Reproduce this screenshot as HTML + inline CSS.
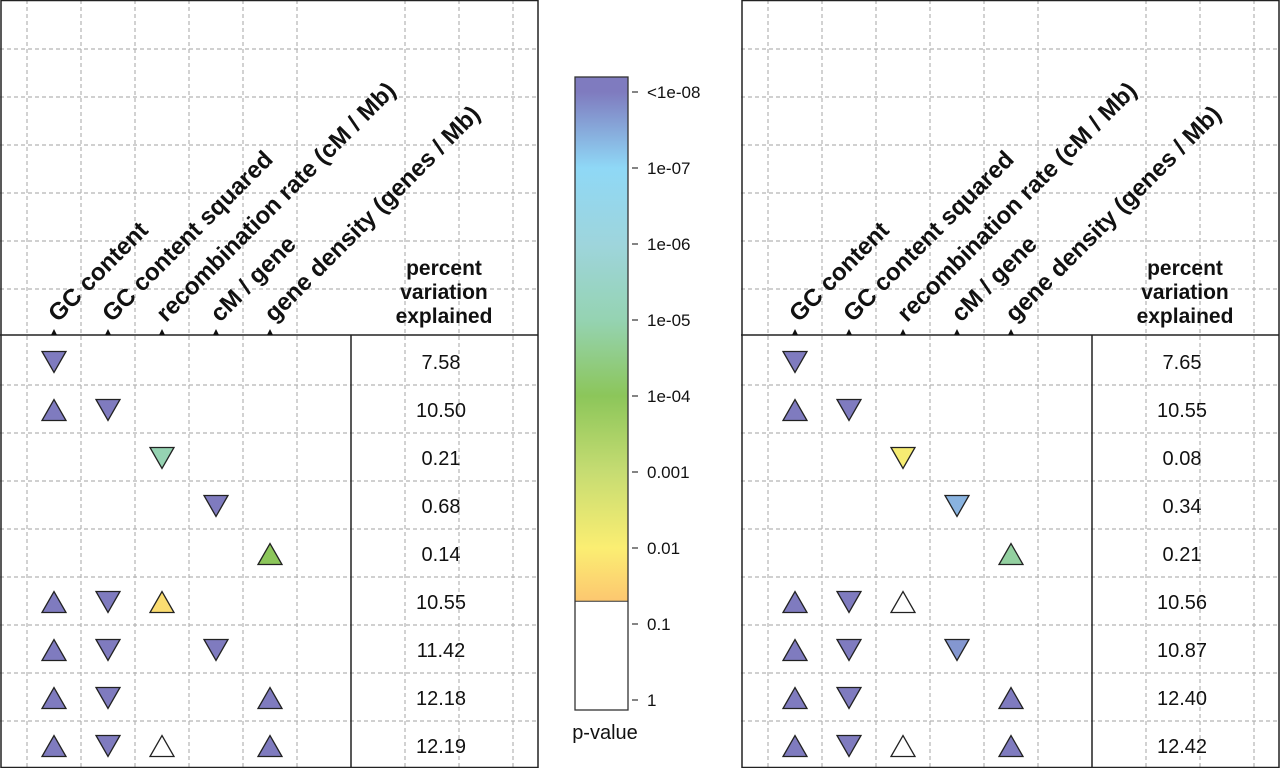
<!DOCTYPE html>
<html><head><meta charset="utf-8"><style>
html,body{margin:0;padding:0;background:#fff;}
svg{display:block;font-family:"Liberation Sans",Arial,sans-serif;}
</style></head><body>
<svg id="chart" width="1280" height="768" viewBox="0 0 1280 768">
<defs>
<linearGradient id="cbGrad" x1="0" y1="1" x2="0" y2="0"></linearGradient>
</defs>
</svg>
<script>
// ---- data ----
const predictors = ["GC content","GC content squared","recombination rate (cM / Mb)","cM / gene","gene density (genes / Mb)"];
// each row: per predictor direction (1 up, -1 down, 0 none)
const leftDirs = [
 [-1,0,0,0,0],[1,-1,0,0,0],[0,0,-1,0,0],[0,0,0,-1,0],[0,0,0,0,1],
 [1,-1,1,0,0],[1,-1,0,-1,0],[1,-1,0,0,1],[1,-1,1,0,1]];
// per predictor log10 p-value (null where absent)
const leftLogP = [
 [-9,null,null,null,null],[-9,-9,null,null,null],[null,null,-5,null,null],[null,null,null,-8,null],[null,null,null,null,-4],
 [-9,-9,-1.7,null,null],[-9,-9,null,-9,null],[-9,-9,null,null,-9],[-9,-9,-0.5,null,-9]];
const leftPct = ["7.58","10.50","0.21","0.68","0.14","10.55","11.42","12.18","12.19"];
const rightDirs = [
 [-1,0,0,0,0],[1,-1,0,0,0],[0,0,-1,0,0],[0,0,0,-1,0],[0,0,0,0,1],
 [1,-1,1,0,0],[1,-1,0,-1,0],[1,-1,0,0,1],[1,-1,1,0,1]];
const rightLogP = [
 [-9,null,null,null,null],[-9,-9,null,null,null],[null,null,-2.1,null,null],[null,null,null,-7.4,null],[null,null,null,null,-4.8],
 [-9,-9,-0.6,null,null],[-9,-9,null,-7.7,null],[-9,-9,null,null,-9],[-9,-9,-0.5,null,-9]];
const rightPct = ["7.65","10.55","0.08","0.34","0.21","10.56","10.87","12.40","12.42"];
const cbTicks = ["<1e-08","1e-07","1e-06","1e-05","1e-04","0.001","0.01","0.1","1"];
const cbTickLog = [-8,-7,-6,-5,-4,-3,-2,-1,0];
const colorStops = [[-8,"#7f7bbf"],[-7,"#8fd8f6"],[-6,"#9ed5dc"],[-5,"#95d3b2"],[-4,"#8cc65a"],[-3,"#c6dc72"],[-2,"#fbee72"],[-1.3,"#fcc770"]];

const NS="http://www.w3.org/2000/svg";
const svg=document.getElementById('chart');
function mk(tag,attrs,parent){const e=document.createElementNS(NS,tag);for(const k in attrs)e.setAttribute(k,attrs[k]);(parent||svg).appendChild(e);return e;}
function hex(h){return [1,3,5].map(i=>parseInt(h.substr(i,2),16));}
function colorFor(lp){
  if(lp>-1.3) return "#ffffff";
  if(lp<=-8) return colorStops[0][1];
  for(let i=0;i<colorStops.length-1;i++){
    const [a,ca]=colorStops[i],[b,cb]=colorStops[i+1];
    if(lp>=a&&lp<=b){const t=(lp-a)/(b-a);const A=hex(ca),B=hex(cb);
      return "rgb("+A.map((v,j)=>Math.round(v+(B[j]-v)*t)).join(",")+")";}
  }
  return "#ffffff";
}
const cbTop=77,cbBot=710;
const cbY=lp=>92+(lp+8)*76;
const grad=document.getElementById('cbGrad');
const gy0=cbY(-1.3), gy1=cbTop;
grad.setAttribute('gradientUnits','userSpaceOnUse');grad.setAttribute('x1',0);grad.setAttribute('x2',0);
grad.setAttribute('y1',gy0);grad.setAttribute('y2',gy1);
colorStops.slice().reverse().forEach(s=>{
  const off=Math.min(1,Math.max(0,(gy0-cbY(s[0]))/(gy0-gy1)));
  mk('stop',{offset:off.toFixed(4),'stop-color':s[1]},grad);
});
mk('stop',{offset:'1','stop-color':colorStops[0][1]},grad);

function panel(ox,dirs,logp,pct,name){
  const g=mk('g',{});
  
  
  const W=538, rowH=48, headY=335;
  const colX=i=>ox+54+54*i;
  const rowY=r=>headY+24+rowH*r;
  for(let k=0;k<10;k++){const x=ox+27+54*k; if(k===6)continue;
    mk('line',{x1:x,y1:0,x2:x,y2:768,stroke:'#b4b4b4','stroke-width':1.2,'stroke-dasharray':'4,3'},g);}
  for(let k=1;k<16;k++){const y=1+48*k; if(k===7)continue;
    mk('line',{x1:ox,y1:y,x2:ox+W,y2:y,stroke:'#b4b4b4','stroke-width':1.2,'stroke-dasharray':'4,3'},g);}
  const bx=mk('rect',{x:ox+1,y:0.5,width:W-1,height:767,fill:'none',stroke:'#222','stroke-width':1.5},g);
  
  mk('line',{x1:ox,y1:headY,x2:ox+W,y2:headY,stroke:'#222','stroke-width':1.5},g);
  mk('line',{x1:ox+351,y1:headY,x2:ox+351,y2:768,stroke:'#222','stroke-width':1.5},g);
  predictors.forEach((p,i)=>{
    const x=colX(i);
    const tk=mk('path',{d:`M${x-3},${headY} L${x+3},${headY} L${x},${headY-6}Z`,fill:'#111'},g);
    
    const tx=x+4, ty=headY-12;
    const t=mk('text',{x:tx,y:ty,'font-size':24,'font-weight':'bold',fill:'#111',transform:`rotate(-45 ${tx} ${ty})`},g);
    t.textContent=p;
    
  });
  ['percent','variation','explained'].forEach((s,j)=>{
    const t=mk('text',{x:ox+444,y:275+j*24,'font-size':21,'font-weight':'bold','text-anchor':'middle',fill:'#111'},g);
    t.textContent=s;
    
  });
  dirs.forEach((row,r)=>{
    const cy=rowY(r)+3;
    row.forEach((d,i)=>{
      if(!d)return;
      const cx=colX(i), w=12, h=10.5;
      const pts=d>0?`${cx-w},${cy+h} ${cx+w},${cy+h} ${cx},${cy-h}`:`${cx-w},${cy-h} ${cx+w},${cy-h} ${cx},${cy+h}`;
      const tri=mk('polygon',{points:pts,fill:colorFor(logp[r][i]),stroke:'#222','stroke-width':1.3},g);
      
      
    });
    const t=mk('text',{x:ox+441,y:rowY(r)+10,'font-size':20,'text-anchor':'middle',fill:'#111'},g);
    t.textContent=pct[r];
    
  });
}
panel(0,leftDirs,leftLogP,leftPct,'left-panel');
panel(741,rightDirs,rightLogP,rightPct,'right-panel');

const cb=mk('g',{});


mk('rect',{x:575,y:cbTop,width:53,height:gy0-cbTop,fill:'url(#cbGrad)'},cb);
mk('rect',{x:575,y:gy0,width:53,height:cbBot-gy0,fill:'#fff'},cb);
mk('line',{x1:575,y1:gy0,x2:628,y2:gy0,stroke:'#333','stroke-width':1},cb);
mk('rect',{x:575,y:cbTop,width:53,height:cbBot-cbTop,fill:'none',stroke:'#333','stroke-width':1.3},cb);
cbTicks.forEach((s,i)=>{
  const y=cbY(cbTickLog[i]);
  mk('line',{x1:632,y1:y,x2:638,y2:y,stroke:'#333','stroke-width':1.2},cb);
  const t=mk('text',{x:647,y:y+6,'font-size':17,fill:'#111'},cb);
  t.textContent=s;
  
});
const pl=mk('text',{x:605,y:739,'font-size':20,'text-anchor':'middle',fill:'#111'},cb);
pl.textContent='p-value';


</script>
</body></html>
